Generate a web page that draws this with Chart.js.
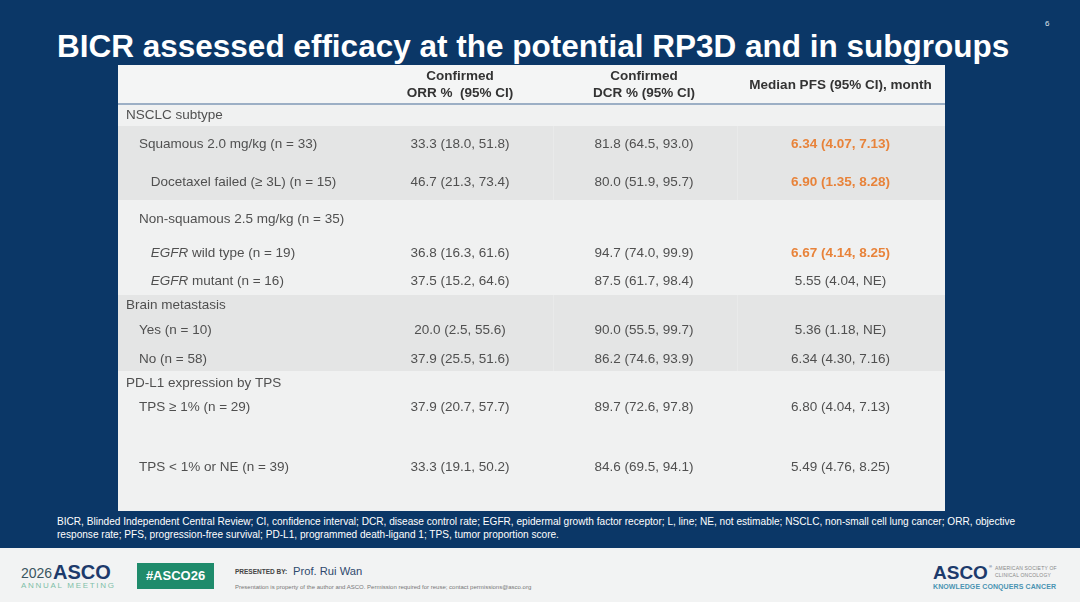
<!DOCTYPE html>
<html>
<head>
<meta charset="utf-8">
<script src="https://cdn.jsdelivr.net/npm/chart.js@4.4.1/dist/chart.umd.min.js"></script>
<style>
  html, body { margin: 0; padding: 0; }
  body { width: 1080px; height: 602px; overflow: hidden; background: #0b3767; font-family: "Liberation Sans", Arial, sans-serif; }
  #slide { position: relative; width: 1080px; height: 602px; }
  .t { position: absolute; white-space: nowrap; line-height: 1; }
  #title { left: 57px; top: 31px; font-size: 31.5px; font-weight: bold; color: #fff; }
  #pageNo { left: 1045px; top: 20px; font-size: 8px; color: #dfe6ee; }
  #tableBox { position: absolute; left: 118px; top: 65px; width: 827px; height: 446px; }
  #footnote { position: absolute; left: 57px; top: 516.3px; font-size: 10.1px; line-height: 12.3px; color: #fff; white-space: nowrap; }
  #footer { position: absolute; left: 0; top: 548px; width: 1080px; height: 54px; background: #f2f3f3; }
  #tag { position: absolute; left: 137px; top: 563px; width: 77px; height: 26px; background: #1f8b6b; color: #fff;
         font-weight: bold; font-size: 13px; line-height: 26px; text-align: center; }
</style>
</head>
<body>
<div id="slide">
  <div class="t" id="pageNo">6</div>
  <div class="t" id="title">BICR assessed efficacy at the potential RP3D and in subgroups</div>
  <div id="tableBox"><canvas id="tbl"></canvas></div>
  <div id="footnote">BICR, Blinded Independent Central Review; CI, confidence interval; DCR, disease control rate; EGFR, epidermal growth factor receptor; L, line; NE, not estimable; NSCLC, non-small cell lung cancer; ORR, objective<br>response rate; PFS, progression-free survival; PD-L1, programmed death-ligand 1; TPS, tumor proportion score.</div>
  <div id="footer"></div>
  <div class="t" style="left:21px; top:566px; font-size:14px; color:#3b5560;">2026</div>
  <div class="t" style="left:53px; top:561.5px; font-size:20px; font-weight:bold; color:#1d3a6b;">ASCO</div>
  <div class="t" style="left:21px; top:582px; font-size:8px; letter-spacing:1.7px; color:#7fbfa8;">ANNUAL MEETING</div>
  <div id="tag">#ASCO26</div>
  <div class="t" style="left:235px; top:568.5px; font-size:6.5px; font-weight:bold; color:#444;">PRESENTED BY:</div>
  <div class="t" style="left:293px; top:565.5px; font-size:11.2px; color:#2f4a6e;">Prof. Rui Wan</div>
  <div class="t" style="left:235px; top:583.5px; font-size:6px; color:#777;">Presentation is property of the author and ASCO. Permission required for reuse; contact permissions@asco.org</div>
  <div class="t" style="left:933px; top:563px; font-size:19px; font-weight:bold; color:#1d3a6b;">ASCO</div>
  <div class="t" style="left:989px; top:565px; font-size:4px; color:#1d3a6b;">®</div>
  <div class="t" style="left:995px; top:566.3px; font-size:5px; letter-spacing:0.2px; color:#888;">AMERICAN SOCIETY OF</div>
  <div class="t" style="left:995px; top:572.8px; font-size:5px; letter-spacing:0.2px; color:#888;">CLINICAL ONCOLOGY</div>
  <div class="t" style="left:933px; top:583px; font-size:7px; font-weight:bold; letter-spacing:0.1px; color:#4a93b2;">KNOWLEDGE CONQUERS CANCER</div>
</div>
<script>
// table content
const columnHeaders = [['Confirmed', 'ORR %  (95% CI)'], ['Confirmed', 'DCR % (95% CI)'], ['Median PFS (95% CI), month']];
const rowLabels = [
  'NSCLC subtype',
  'Squamous 2.0 mg/kg (n = 33)',
  'Docetaxel failed (\u2265 3L) (n = 15)',
  'Non-squamous 2.5 mg/kg (n = 35)',
  'EGFR wild type (n = 19)',
  'EGFR mutant (n = 16)',
  'Brain metastasis',
  'Yes (n = 10)',
  'No (n = 58)',
  'PD-L1 expression by TPS',
  'TPS \u2265 1% (n = 29)',
  'TPS < 1% or NE (n = 39)'
];
const rowLevels = [0, 1, 2, 1, 2, 2, 0, 1, 1, 0, 1, 1];
const orrValues = [null, '33.3 (18.0, 51.8)', '46.7 (21.3, 73.4)', null, '36.8 (16.3, 61.6)', '37.5 (15.2, 64.6)',
  null, '20.0 (2.5, 55.6)', '37.9 (25.5, 51.6)', null, '37.9 (20.7, 57.7)', '33.3 (19.1, 50.2)'];
const dcrValues = [null, '81.8 (64.5, 93.0)', '80.0 (51.9, 95.7)', null, '94.7 (74.0, 99.9)', '87.5 (61.7, 98.4)',
  null, '90.0 (55.5, 99.7)', '86.2 (74.6, 93.9)', null, '89.7 (72.6, 97.8)', '84.6 (69.5, 94.1)'];
const pfsValues = [null, '6.34 (4.07, 7.13)', '6.90 (1.35, 8.28)', null, '6.67 (4.14, 8.25)', '5.55 (4.04, NE)',
  null, '5.36 (1.18, NE)', '6.34 (4.30, 7.16)', null, '6.80 (4.04, 7.13)', '5.49 (4.76, 8.25)'];
const pfsHighlight = [false, true, true, false, true, false, false, false, false, false, false, false];
const italicWords = ['EGFR'];

// layout (table units = px inside the table box)
const tableW = 827, tableH = 446;
const headerH = 40;
const rowY = [50, 79, 117, 154, 188, 216, 240, 265, 294, 318, 342, 402];
const indentX = [8, 21, 32.7];
const colX = [342, 526, 722.5];
const headerLineY = [[11, 28], [11, 28], [20]];
const grayBands = [[61, 135], [230, 306]];
const separatorsX = [434.7, 618.7];

const FONT = '"Liberation Sans", Arial, sans-serif';
const textColor = '#505050';
const headColor = '#333333';
const orange = '#e8833a';

function points(values, xv) {
  return values.map((v, i) => v === null ? null : { x: xv, y: rowY[i], text: v, i: i }).filter(Boolean);
}

const tablePlugin = {
  id: 'tablePlugin',
  beforeDatasetsDraw(chart) {
    const { ctx, scales: { x, y } } = chart;
    const band = (y0, y1, color) => {
      ctx.fillStyle = color;
      ctx.fillRect(x.getPixelForValue(0), y.getPixelForValue(y0), x.getPixelForValue(tableW) - x.getPixelForValue(0),
        y.getPixelForValue(y1) - y.getPixelForValue(y0));
    };
    ctx.save();
    band(0, tableH, '#f0f1f1');
    band(0, headerH, '#f4f5f5');
    grayBands.forEach(b => {
      band(b[0], b[1], '#e4e5e5');
      ctx.strokeStyle = '#e9eaea';
      ctx.lineWidth = 1;
      separatorsX.forEach(sx => {
        const px = Math.round(x.getPixelForValue(sx)) + 0.5;
        ctx.beginPath();
        ctx.moveTo(px, y.getPixelForValue(b[0]));
        ctx.lineTo(px, y.getPixelForValue(b[1]));
        ctx.stroke();
      });
    });
    ctx.strokeStyle = '#7f97b5';
    ctx.lineWidth = 1.5;
    ctx.beginPath();
    ctx.moveTo(x.getPixelForValue(0), y.getPixelForValue(headerH - 1));
    ctx.lineTo(x.getPixelForValue(tableW), y.getPixelForValue(headerH - 1));
    ctx.stroke();

    // column headers
    ctx.fillStyle = headColor;
    ctx.font = 'bold 13.5px ' + FONT;
    ctx.textAlign = 'center';
    ctx.textBaseline = 'middle';
    columnHeaders.forEach((lines, k) => {
      lines.forEach((ln, j) => ctx.fillText(ln, x.getPixelForValue(colX[k]), y.getPixelForValue(headerLineY[k][j])));
    });
    ctx.restore();
  },
  afterDatasetsDraw(chart) {
    const { ctx } = chart;
    ctx.save();
    ctx.textBaseline = 'middle';
    chart.data.datasets.forEach((ds, di) => {
      const meta = chart.getDatasetMeta(di);
      meta.data.forEach((el, k) => {
        const pt = ds.data[k];
        if (ds.kind === 'label') {
          ctx.textAlign = 'left';
          ctx.fillStyle = textColor;
          let px = el.x;
          let txt = pt.text;
          const word = italicWords.find(w => txt.startsWith(w + ' '));
          if (word) {
            ctx.font = 'italic 13.5px ' + FONT;
            ctx.fillText(word, px, el.y);
            px += ctx.measureText(word).width;
            txt = txt.slice(word.length);
          }
          ctx.font = '13.5px ' + FONT;
          ctx.fillText(txt, px, el.y);
        } else {
          const hi = ds.kind === 'pfs' && pfsHighlight[pt.i];
          ctx.textAlign = 'center';
          ctx.font = (hi ? 'bold ' : '') + '13.5px ' + FONT;
          ctx.fillStyle = hi ? orange : textColor;
          ctx.fillText(pt.text, el.x, el.y);
        }
      });
    });
    ctx.restore();
  }
};

new Chart(document.getElementById('tbl'), {
  type: 'scatter',
  data: {
    datasets: [
      { kind: 'label', data: rowLabels.map((t, i) => ({ x: indentX[rowLevels[i]], y: rowY[i], text: t, i: i })), pointRadius: 0 },
      { kind: 'orr', data: points(orrValues, colX[0]), pointRadius: 0 },
      { kind: 'dcr', data: points(dcrValues, colX[1]), pointRadius: 0 },
      { kind: 'pfs', data: points(pfsValues, colX[2]), pointRadius: 0 }
    ]
  },
  options: {
    responsive: true,
    maintainAspectRatio: false,
    animation: false,
    events: [],
    layout: { padding: 0 },
    plugins: { legend: { display: false }, tooltip: { enabled: false } },
    scales: {
      x: { type: 'linear', min: 0, max: tableW, display: false },
      y: { type: 'linear', min: 0, max: tableH, reverse: true, display: false }
    }
  },
  plugins: [tablePlugin]
});
</script>
</body>
</html>
